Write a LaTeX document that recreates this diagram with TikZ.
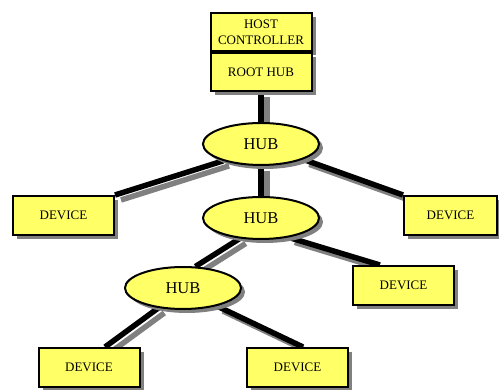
\documentclass[tikz,border=0pt]{standalone}
\usepackage{fontspec}
\setmainfont{Liberation Serif}
\usetikzlibrary{shapes,shadows,backgrounds,calc}

\definecolor{padyellow}{RGB}{255,255,102}

\begin{document}
\begin{tikzpicture}[x=1pt,y=-1pt,
	yellowshadow/.style={fill=padyellow,draw=black,line width=2pt,
		drop shadow={shadow xshift=4pt,shadow yshift=-4pt,fill=black!50,opacity=1}},
	devbox/.style={yellowshadow,rectangle,minimum width=101pt,minimum height=39pt,
		inner sep=0pt,font=\fontsize{13}{16}\selectfont},
	hubnode/.style={yellowshadow,ellipse,minimum width=116pt,minimum height=42pt,
		inner sep=0pt,font=\fontsize{16.5}{18}\selectfont},
	wire/.style={line width=5.5pt,draw=black},
	wireshadow/.style={line width=5.5pt,draw=black!50}]
	\useasboundingbox (0,0) rectangle (499,390);

	% host controller and root hub
	\node[devbox,minimum height=38pt,align=center] (host) at (261,32) {HOST\\CONTROLLER};
	\node[devbox,minimum height=38pt] (root) at (261,72) {ROOT HUB};

	% hubs
	\node[hubnode] (hubtop) at (261,144) {HUB};
	\node[hubnode] (hubmid) at (261,218) {HUB};
	\node[hubnode] (hublow) at (183,288) {HUB};

	% devices
	\node[devbox] (devleft) at (63.5,215.5) {DEVICE};
	\node[devbox,minimum width=93pt] (devright) at (450.5,215.5) {DEVICE};
	\node[devbox] (devmid) at (403.5,285.5) {DEVICE};
	\node[devbox] (devbl) at (89,367.5) {DEVICE};
	\node[devbox] (devbr) at (297.5,367.5) {DEVICE};

	% cables, behind the boxes
	\begin{scope}[on background layer]
	\foreach \a/\b in {root.south/hubtop.north, hubtop.south/hubmid.north,
		hubtop.204/devleft.north east, hubtop.340/devright.north west,
		hubmid.224/hublow.60, hubmid.325/devmid.139,
		hublow.219/devbl.52, hublow.332/devbr.75} {
		\draw[wireshadow] ($(\a)+(6,5)$) -- ($(\b)+(6,5)$);
		\draw[wire] (\a) -- (\b);
	}
	\end{scope}
\end{tikzpicture}
\end{document}
